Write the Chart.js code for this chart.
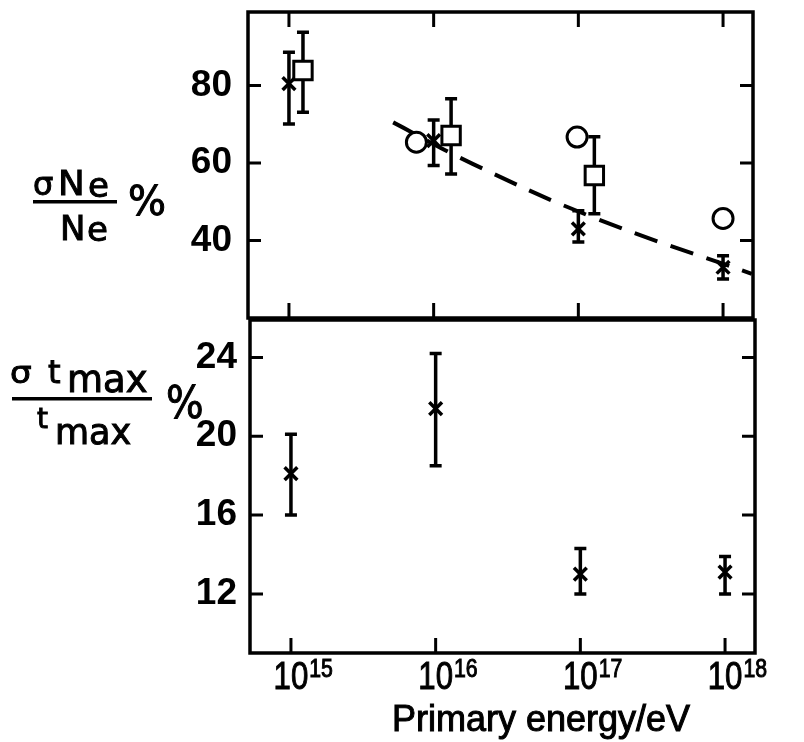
<!DOCTYPE html>
<html>
<head>
<meta charset="utf-8">
<script src="https://cdn.jsdelivr.net/npm/chart.js@4.4.0/dist/chart.umd.min.js"></script>
<style>
  body { margin: 0; background: #fff; }
  canvas { position: absolute; left: 0; top: 0; }
</style>
</head>
<body>
<canvas id="bottom" width="804" height="742"></canvas>
<canvas id="top" width="804" height="742"></canvas>
<script>
// decades shown on the energy axis
const tickExps = [15, 16, 17, 18];

// sigma(Ne)/Ne in %, crosses with error bars
const neCrossE = [1e15, 1e16, 1e17, 1e18];
const neCrossV = [80.5, 65.8, 43.0, 33.1];
const neCrossLo = [70.1, 59.4, 39.6, 30.1];
const neCrossHi = [88.6, 71.1, 47.7, 36.1];

// squares with error bars
const neSquareE = [1.25e15, 1.32e16, 1.29e17];
const neSquareV = [83.9, 67.1, 56.8];
const neSquareLo = [73.1, 57.2, 46.9];
const neSquareHi = [93.8, 76.6, 66.8];

// open circles
const neCircleE = [7.6e15, 9.8e16, 1e18];
const neCircleV = [65.4, 66.7, 45.7];

// dashed curve
const neCurveE = [5.25e15, 1.86e16, 1.26e17, 1.58e18];
const neCurveV = [70.5, 59.8, 46.0, 31.4];

// sigma(tmax)/tmax in %
const tCrossE = [1e15, 1e16, 1e17, 1e18];
const tCrossV = [18.1, 21.4, 13.0, 13.1];
const tCrossLo = [16.0, 18.5, 12.0, 12.0];
const tCrossHi = [20.1, 24.2, 14.3, 13.9];

const neTicks = [40, 60, 80];
const tTicks = [12, 16, 20, 24];

const pts = (xs, ys) => xs.map((x, i) => ({ x: x, y: ys[i] }));

// box round the plot area plus inward tick marks
const frame = {
  id: 'frame',
  afterDraw(chart, args, opts) {
    const { ctx, chartArea: a, scales } = chart;
    ctx.save();
    ctx.strokeStyle = '#000';
    ctx.lineWidth = 3.5;
    ctx.strokeRect(a.left, a.top, a.right - a.left, a.bottom - a.top);
    ctx.lineWidth = 3;
    ctx.beginPath();
    scales.x.ticks.forEach(t => {
      const px = scales.x.getPixelForValue(t.value);
      if (opts.topTicks) { ctx.moveTo(px, a.top); ctx.lineTo(px, a.top + 15); }
      ctx.moveTo(px, a.bottom); ctx.lineTo(px, a.bottom - 15);
    });
    scales.y.ticks.forEach(t => {
      const py = scales.y.getPixelForValue(t.value);
      ctx.moveTo(a.left, py); ctx.lineTo(a.left + 13, py);
      ctx.moveTo(a.right, py); ctx.lineTo(a.right - 13, py);
    });
    ctx.stroke();
    ctx.restore();
  }
};

// vertical error bars with short caps
const errorBars = {
  id: 'errorBars',
  beforeDatasetsDraw(chart) {
    const { ctx, scales: { x, y } } = chart;
    ctx.save();
    ctx.strokeStyle = '#000';
    ctx.lineWidth = 3.5;
    chart.data.datasets.forEach(ds => {
      if (!ds.errLo) return;
      ds.data.forEach((p, i) => {
        const px = x.getPixelForValue(p.x);
        const lo = y.getPixelForValue(ds.errLo[i]);
        const hi = y.getPixelForValue(ds.errHi[i]);
        ctx.beginPath();
        ctx.moveTo(px, lo); ctx.lineTo(px, hi);
        ctx.moveTo(px - 6, lo); ctx.lineTo(px + 6, lo);
        ctx.moveTo(px - 6, hi); ctx.lineTo(px + 6, hi);
        ctx.stroke();
      });
    });
    ctx.restore();
  }
};

// text with optional horizontal squeeze and a thin outline to thicken strokes
function txt(ctx, str, x, y, font, sx, align) {
  ctx.save();
  ctx.font = font;
  const w = ctx.measureText(str).width * sx;
  const left = align === 'center' ? x - w / 2 : x;
  ctx.translate(left, y);
  ctx.scale(sx, 1);
  ctx.textAlign = 'left';
  ctx.textBaseline = 'alphabetic';
  ctx.fillStyle = '#000';
  ctx.strokeStyle = '#000';
  ctx.lineWidth = 1;
  ctx.fillText(str, 0, 0);
  ctx.strokeText(str, 0, 0);
  ctx.restore();
  return w;
}

// axis titles and the 10^n labels
const labels = {
  id: 'labels',
  afterDraw(chart) {
    const ctx = chart.ctx;
    const xs = chart.scales.x;
    const tf = s => s + 'px "DejaVu Sans"';
    const lf = s => s + 'px "Liberation Sans"';

    xs.ticks.forEach(t => {
      const px = xs.getPixelForValue(t.value);
      const w = txt(ctx, '10', px, 689, lf(39), 0.8, 'center');
      txt(ctx, String(Math.round(Math.log10(t.value))), px + w / 2 + 1, 677, lf(25), 0.85);
    });
    txt(ctx, 'Primary energy/eV', 392, 731, lf(36), 1);

    // sigma Ne / Ne %
    txt(ctx, '\u03c3', 33, 195, tf(32), 1);
    txt(ctx, 'N', 58, 195, tf(34), 1.05);
    txt(ctx, 'e', 88, 197, tf(34), 1);
    txt(ctx, 'N', 60, 240, tf(34), 1);
    txt(ctx, 'e', 87, 241, tf(34), 1);
    txt(ctx, '%', 128, 215, tf(40), 1);

    // sigma tmax / tmax %
    txt(ctx, '\u03c3', 10, 383, tf(31), 1.1);
    txt(ctx, 't', 48, 383, tf(32), 1);
    txt(ctx, 'max', 67, 392, tf(37), 1);
    txt(ctx, 't', 37, 428, tf(28), 1);
    txt(ctx, 'max', 55, 444, tf(35), 1);
    txt(ctx, '%', 166, 418, tf(44), 0.9);

    ctx.save();
    ctx.fillStyle = '#000';
    ctx.fillRect(33, 200, 84, 3.5);
    ctx.fillRect(12, 397, 140, 3.5);
    ctx.restore();
  }
};

function xScale(h) {
  return {
    type: 'logarithmic',
    min: 10 ** 14.717,
    max: 10 ** 18.207,
    afterBuildTicks: s => { s.ticks = tickExps.map(e => ({ value: 10 ** e })); },
    afterFit: s => { s.height = h; s.paddingLeft = 0; s.paddingRight = 0; },
    ticks: { display: false },
    grid: { display: false },
    border: { display: false }
  };
}

function yScale(min, max, vals, w, pad) {
  return {
    min: min,
    max: max,
    afterBuildTicks: s => { s.ticks = vals.map(v => ({ value: v })); },
    afterFit: s => { s.width = w; s.paddingTop = 0; s.paddingBottom = 0; },
    ticks: {
      color: '#000',
      font: { family: '"Liberation Sans Narrow", "Liberation Sans", sans-serif', size: 37, weight: 'bold' },
      padding: pad
    },
    grid: { display: false },
    border: { display: false }
  };
}

const cross = {
  pointStyle: 'crossRot', pointRadius: 9, pointHoverRadius: 9,
  borderColor: '#000', borderWidth: 3.5, backgroundColor: '#000'
};

new Chart(document.getElementById('top'), {
  type: 'scatter',
  plugins: [errorBars, frame],
  data: {
    datasets: [
      { label: 'circles', data: pts(neCircleE, neCircleV), order: 0,
        pointStyle: 'circle', pointRadius: 10, pointHoverRadius: 10,
        borderColor: '#000', borderWidth: 3, backgroundColor: '#fff' },
      { label: 'squares', data: pts(neSquareE, neSquareV), order: 1, errLo: neSquareLo, errHi: neSquareHi,
        pointStyle: 'rect', pointRadius: 13, pointHoverRadius: 13,
        borderColor: '#000', borderWidth: 3, backgroundColor: '#fff' },
      Object.assign({ label: 'crosses', data: pts(neCrossE, neCrossV), order: 2,
        errLo: neCrossLo, errHi: neCrossHi }, cross),
      { label: 'curve', data: pts(neCurveE, neCurveV), order: 3, showLine: true,
        borderColor: '#000', borderWidth: 4, borderDash: [24, 14], tension: 0.4, pointRadius: 0 }
    ]
  },
  options: {
    responsive: false,
    animation: false,
    layout: { autoPadding: false, padding: { top: 12, right: 51, bottom: 0, left: 0 } },
    scales: {
      x: xScale(742 - 318),
      y: yScale(20, 99, neTicks, 248, 8)
    },
    plugins: { legend: { display: false }, tooltip: { enabled: false }, frame: { topTicks: true } }
  }
});

new Chart(document.getElementById('bottom'), {
  type: 'scatter',
  plugins: [errorBars, frame, labels],
  data: {
    datasets: [
      Object.assign({ label: 'tmax', data: pts(tCrossE, tCrossV), errLo: tCrossLo, errHi: tCrossHi }, cross)
    ]
  },
  options: {
    responsive: false,
    animation: false,
    layout: { autoPadding: false, padding: { top: 320, right: 49, bottom: 0, left: 0 } },
    scales: {
      x: xScale(742 - 653),
      y: yScale(9, 25.9, tTicks, 250, 5)
    },
    plugins: { legend: { display: false }, tooltip: { enabled: false }, frame: { topTicks: false } }
  }
});
</script>
</body>
</html>
